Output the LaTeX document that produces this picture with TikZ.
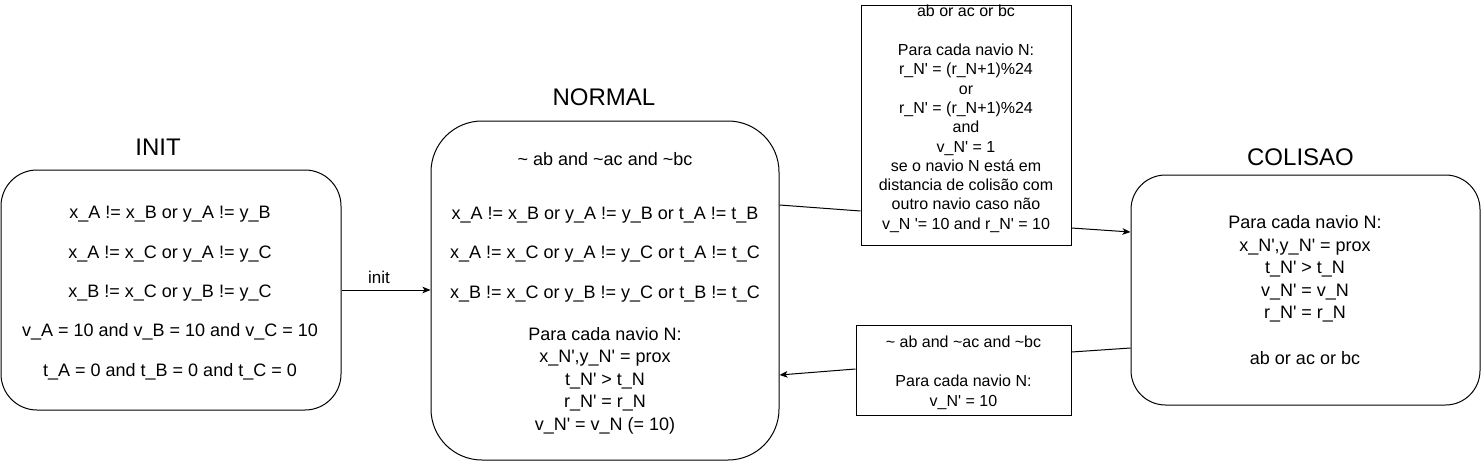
\documentclass[tikz,border=0pt]{standalone}
\usepackage{fontspec}
\setmainfont{Liberation Sans}
\usetikzlibrary{arrows.meta}
\newcommand{\apos}{\textquotesingle}
\tikzset{
  statebox/.style={draw, line width=1pt, rounded corners=#1, inner sep=0pt},
  lblbox/.style={draw, line width=1pt, inner sep=0pt},
  bigtxt/.style={align=center, inner sep=0pt, font=\fontsize{18}{22.5}\selectfont},
  smalltxt/.style={align=center, inner sep=0pt, font=\fontsize{16}{19.3}\selectfont},
  titletxt/.style={inner sep=0pt, anchor=base, font=\fontsize{24}{28}\selectfont},
  conn/.style={line width=1pt},
  arr/.style={line width=1pt, -{Stealth[length=8pt,width=6.5pt,inset=2pt]}},
}
\begin{document}
\begin{tikzpicture}[x=1pt,y=-1pt]
\useasboundingbox (0,0) rectangle (1481,461);

% state boxes
\node[statebox=36pt, minimum width=340pt, minimum height=240pt] (ini) at (171,290) {};
\node[statebox=51pt, minimum width=348pt, minimum height=339pt] (nrm) at (605,290.5) {};
\node[statebox=34.5pt, minimum width=349pt, minimum height=230pt] (col) at (1305.5,290) {};

% titles
\node[titletxt] (iniT) at (158,155) {INIT};
\node[titletxt] (nrmT) at (604,105) {NORMAL};
\node[titletxt] (colT) at (1300.5,165) {COLISAO};

% state texts
\node[bigtxt, font=\fontsize{18}{39.4}\selectfont] (iniX) at (170,293) {%
x\_A != x\_B or y\_A != y\_B\\
x\_A != x\_C or y\_A != y\_C\\
x\_B != x\_C or y\_B != y\_C\\
v\_A = 10 and v\_B = 10 and v\_C = 10\\
t\_A = 0 and t\_B = 0 and t\_C = 0};

\node[bigtxt] (nrmX) at (605,293.4) {%
\textasciitilde{} ab and \textasciitilde ac and \textasciitilde bc\\[31pt]
x\_A != x\_B or y\_A != y\_B or t\_A != t\_B\\[17pt]
x\_A != x\_C or y\_A != y\_C or t\_A != t\_C\\[17pt]
x\_B != x\_C or y\_B != y\_C or t\_B != t\_C\\[19.5pt]
Para cada navio N:\\
x\_N\apos,y\_N\apos{} = prox\\
t\_N\apos{} > t\_N\\
r\_N\apos{} = r\_N\\
v\_N\apos{} = v\_N (= 10)};

\node[bigtxt] (colX) at (1305,290.5) {%
Para cada navio N:\\
x\_N\apos,y\_N\apos{} = prox\\
t\_N\apos{} > t\_N\\
v\_N\apos{} = v\_N\\
r\_N\apos{} = r\_N\\[23.5pt]
ab or ac or bc};

% label boxes
\node[lblbox, minimum width=210pt, minimum height=240pt] (tlab) at (966,125) {};
\node[smalltxt] (tlabX) at (966,118.9) {%
ab or ac or bc\\[19.3pt]
Para cada navio N:\\
r\_N\apos{} = (r\_N+1)\%24\\
or\\
r\_N\apos{} = (r\_N+1)\%24\\
and\\
v\_N\apos{} = 1\\
se o navio N está em\\
distancia de colisão com\\
outro navio caso não\\
v\_N \apos= 10 and r\_N\apos{} = 10};

\node[lblbox, minimum width=215pt, minimum height=90pt] (blab) at (963.5,370) {};
\node[smalltxt] (blabX) at (963.5,372.8) {%
\textasciitilde{} ab and \textasciitilde ac and \textasciitilde bc\\[19.5pt]
Para cada navio N:\\
v\_N\apos{} = 10};

% connectors
\draw[arr] (ini.east) -- (ini.east -| nrm.west);
\node[anchor=base, inner sep=0pt, font=\fontsize{17}{20}\selectfont] (initL) at (379,283) {init};

\draw[conn] ([yshift=85.5pt]nrm.east) -- ([yshift=-86pt]tlab.west);
\draw[arr] ([yshift=-103pt]tlab.east) -- ([yshift=58pt]col.west);

\draw[conn] ([yshift=-58pt]col.west) -- ([yshift=18pt]blab.east);
\draw[arr] ([yshift=1pt]blab.west) -- ([yshift=-84.5pt]nrm.east);
\end{tikzpicture}
\end{document}
